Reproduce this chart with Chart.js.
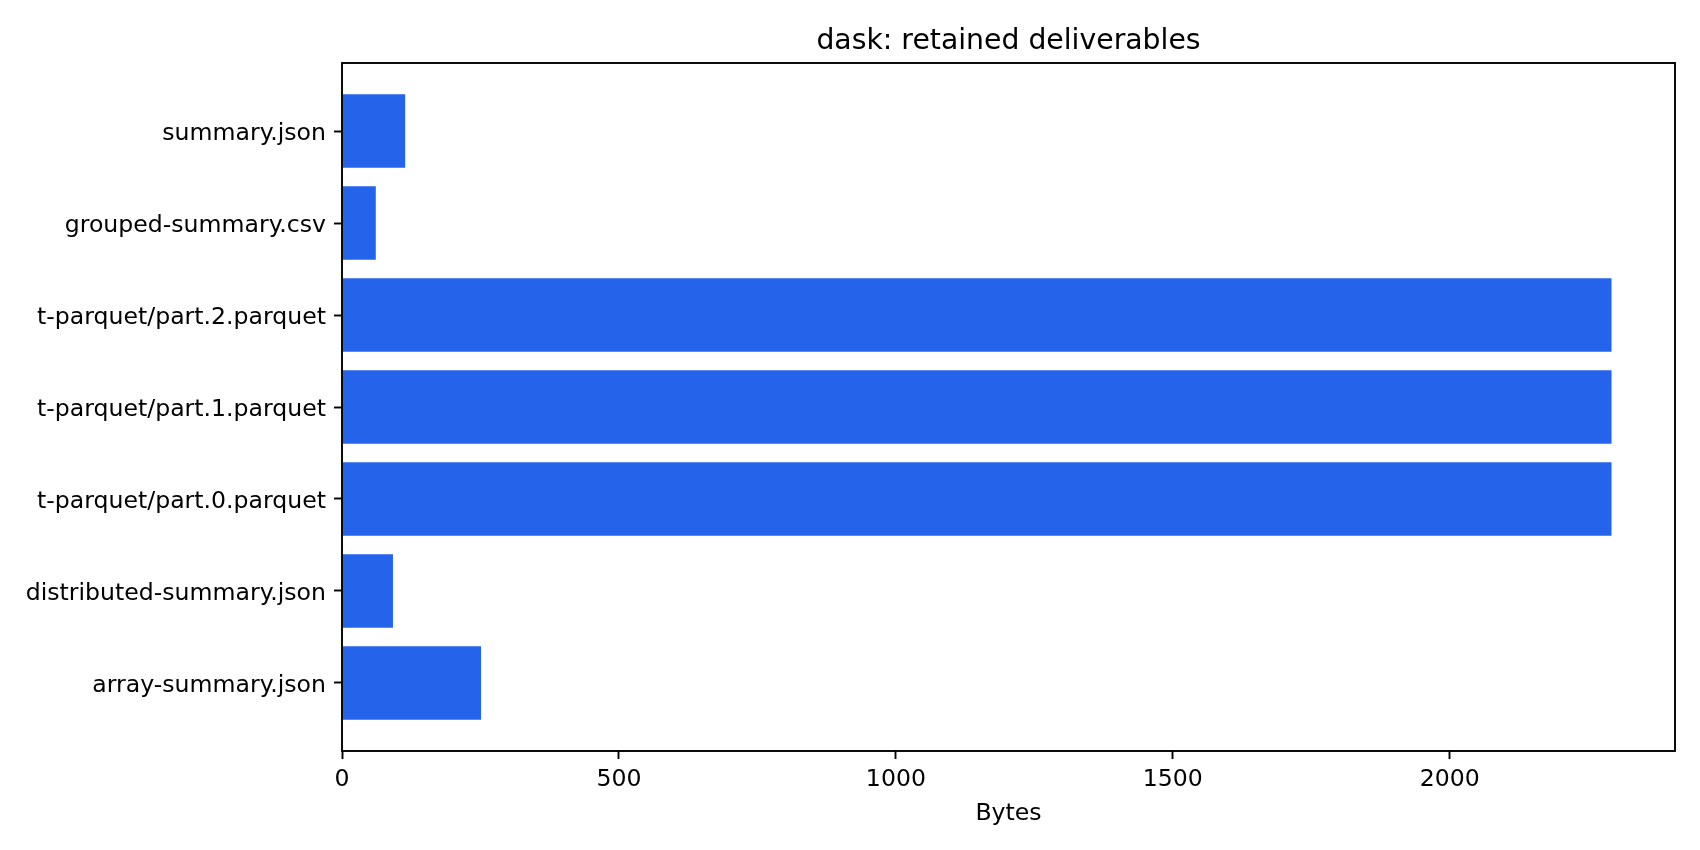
<!DOCTYPE html>
<html>
<head>
<meta charset="utf-8">
<script src="https://cdn.jsdelivr.net/npm/chart.js@4/dist/chart.umd.min.js"></script>
<style>
  html, body { margin: 0; padding: 0; background: #fff; }
  #wrap { width: 1700px; height: 850px; }
</style>
</head>
<body>
<div id="wrap"><canvas id="chart" width="1700" height="850"></canvas></div>
<script>
// files, bottom to top (same order as the bars)
var files = [
    'array-summary.json',
    'distributed-summary.json',
    't-parquet/part.0.parquet',
    't-parquet/part.1.parquet',
    't-parquet/part.2.parquet',
    'grouped-summary.csv',
    'summary.json'
];
var sizes = [251, 92, 2292, 2292, 2292, 61, 114];
var xTickValues = [0, 500, 1000, 1500, 2000];

var FONT = '"DejaVu Sans", sans-serif';
Chart.defaults.font.family = FONT;
Chart.defaults.color = '#000';

// full black box round the plot, like matplotlib
var frame = {
    id: 'frame',
    afterDraw: function(chart) {
        var a = chart.chartArea;
        var ctx = chart.ctx;
        ctx.save();
        ctx.strokeStyle = '#000';
        ctx.lineWidth = 1.9;
        ctx.strokeRect(a.left, a.top, a.right - a.left, a.bottom - a.top);
        ctx.restore();
    }
};

var points = [];
for (var i = 0; i < files.length; i++) {
    points.push({ x: sizes[i], y: i });
}
var xMax = Math.max.apply(null, sizes) * 1.05;

var tickGrid = {
    display: true,
    offset: false,
    drawOnChartArea: false,
    drawTicks: true,
    tickLength: 8,
    tickWidth: 1.9,
    tickColor: '#000'
};

new Chart(document.getElementById('chart'), {
    type: 'bar',
    data: {
        datasets: [{
            data: points,
            xAxisID: 'x',
            yAxisID: 'y',
            backgroundColor: '#2563eb',
            borderWidth: 0,
            categoryPercentage: 1,
            barPercentage: 0.8
        }]
    },
    options: {
        indexAxis: 'y',
        responsive: false,
        animation: false,
        devicePixelRatio: 1,
        layout: { padding: { left: 0, right: 25, top: 0, bottom: 0 } },
        plugins: {
            legend: { display: false },
            tooltip: { enabled: false }
        },
        scales: {
            x: {
                type: 'linear',
                position: 'bottom',
                min: 0,
                max: xMax,
                afterBuildTicks: function(scale) {
                    scale.ticks = xTickValues.map(function(v) { return { value: v }; });
                },
                afterFit: function(scale) { scale.height = 99; },
                ticks: {
                    font: { size: 23.6 },
                    color: '#000',
                    padding: 7,
                    maxRotation: 0,
                    callback: function(v) { return String(v); }
                },
                grid: tickGrid,
                border: { display: false },
                title: {
                    display: true,
                    text: 'Bytes',
                    color: '#000',
                    font: { size: 23.6 },
                    padding: { top: 4, bottom: 22 }
                }
            },
            y: {
                type: 'linear',
                offset: false,
                min: -0.74,
                max: 6.74,
                afterBuildTicks: function(scale) {
                    scale.ticks = files.map(function(f, i) { return { value: i }; });
                },
                afterFit: function(scale) { scale.width = 342; },
                ticks: {
                    font: { size: 23.6 },
                    color: '#000',
                    padding: 8,
                    labelOffset: 3,
                    callback: function(v) { return files[v]; }
                },
                grid: tickGrid,
                border: { display: false }
            },
            // top axis only carries the title, so it centres over the plot
            top: {
                type: 'linear',
                position: 'top',
                min: 0,
                max: 1,
                afterFit: function(scale) { scale.height = 63; },
                ticks: { display: false },
                grid: { display: false },
                border: { display: false },
                title: {
                    display: true,
                    text: 'dask: retained deliverables',
                    color: '#000',
                    font: { size: 28.3, weight: 'normal' },
                    padding: { top: 25, bottom: 0 }
                }
            }
        }
    },
    plugins: [frame]
});
</script>
</body>
</html>
